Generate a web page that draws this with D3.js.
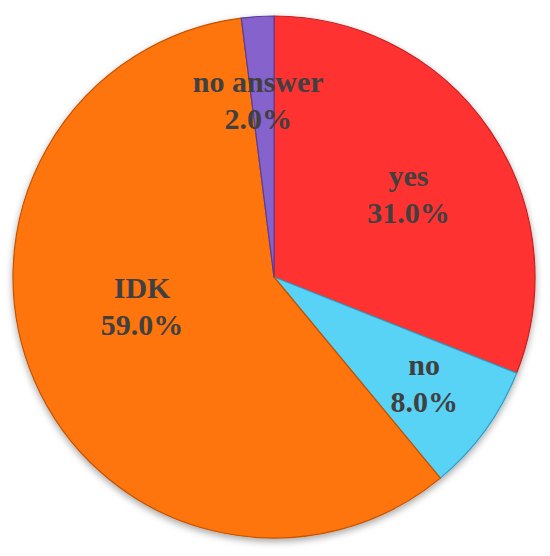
<!DOCTYPE html>
<html>
<head>
<meta charset="utf-8">
<script src="https://cdn.jsdelivr.net/npm/d3@7"></script>
<style>
  body { margin: 0; background: #fff; }
  svg { display: block; }
</style>
</head>
<body>
<svg></svg>
<script>
// Data
const categories = ["yes", "no", "IDK", "no answer"];
const shares = [31.0, 8.0, 59.0, 2.0];
const labels = ["31.0%", "8.0%", "59.0%", "2.0%"];
const colors = ["#ff3333", "#58d2f5", "#ff7409", "#8562cc"];
const edgeColors = ["#c42020", "#2f9ec4", "#c45200", "#5a3c9a"];

// label placement (angle in degrees from 12 o'clock, radius in px)
const labelPolar = [[61.5, 153], [127.8, 190], [253.5, 137.6], [-5.4, 168]];

const width = 550;
const height = 556;
const cx = 274, cy = 277, radius = 261;

const svg = d3.select("svg")
  .attr("width", width)
  .attr("height", height);

const defs = svg.append("defs");
const shadow = defs.append("filter")
  .attr("id", "shadow")
  .attr("x", "-10%").attr("y", "-10%")
  .attr("width", "120%").attr("height", "120%");
shadow.append("feDropShadow")
  .attr("dx", 0).attr("dy", 3)
  .attr("stdDeviation", 3.5)
  .attr("flood-color", "#000")
  .attr("flood-opacity", 0.35);

const chart = svg.append("g")
  .attr("transform", `translate(${cx}, ${cy})`);

const pie = d3.pie().sort(null).value(d => d);
const arcs = pie(shares);

const arc = d3.arc().innerRadius(0).outerRadius(radius);

chart.append("g")
  .attr("filter", "url(#shadow)")
  .selectAll("path")
  .data(arcs)
  .enter()
  .append("path")
  .attr("d", arc)
  .attr("fill", (d, i) => colors[i])
  .attr("stroke", (d, i) => edgeColors[i])
  .attr("stroke-width", 1.2)
  .attr("stroke-linejoin", "round");

// Labels
const lab = chart.selectAll(".lab")
  .data(arcs)
  .enter()
  .append("text")
  .attr("class", "lab")
  .attr("text-anchor", "middle")
  .attr("font-family", "'Liberation Serif', serif")
  .attr("font-weight", "bold")
  .attr("font-size", 30)
  .attr("fill", "#404040")
  .attr("transform", (d, i) => {
    const a = labelPolar[i][0] * Math.PI / 180, r = labelPolar[i][1];
    return `translate(${r * Math.sin(a)}, ${-r * Math.cos(a)})`;
  });

lab.append("tspan")
  .attr("x", 0).attr("y", -18)
  .text((d, i) => categories[i]);
lab.append("tspan")
  .attr("x", 0).attr("y", 19)
  .text((d, i) => labels[i]);
</script>
</body>
</html>
